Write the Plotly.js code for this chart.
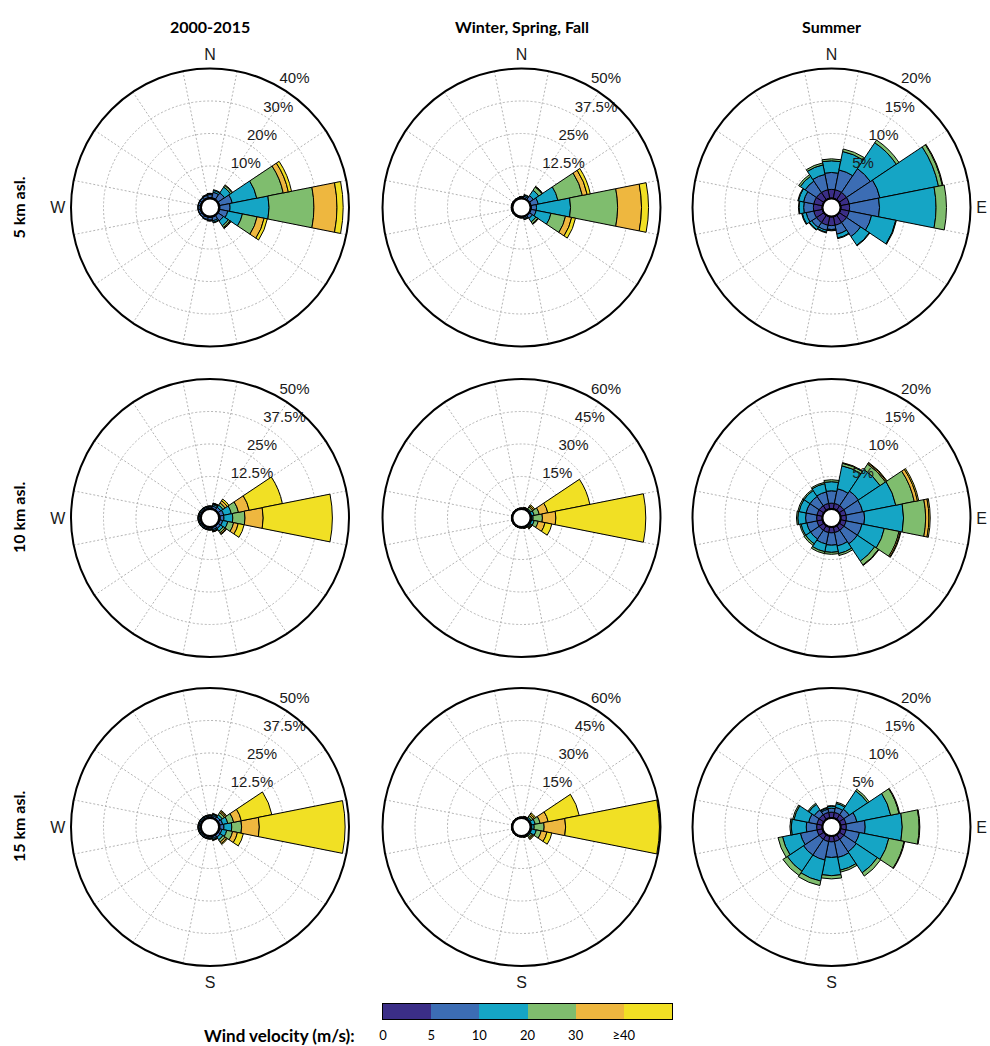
<!DOCTYPE html>
<html><head><meta charset="utf-8">
<script src="https://cdn.plot.ly/plotly-3.0.1.min.js"></script>
<style>html,body{margin:0;padding:0;background:#fff}#chart{width:990px;height:1046px}</style>
</head><body><div id="chart"></div>
<script>
// ---------------- data ----------------
const directions = ['N','NNE','NE','ENE','E','ESE','SE','SSE','S','SSW','SW','WSW','W','WNW','NW','NNW'];
const dirAngles = [0,22.5,45,67.5,90,112.5,135,157.5,180,202.5,225,247.5,270,292.5,315,337.5];
const speedClasses = ['0-5','5-10','10-20','20-30','30-40','>=40'];
const speedColors = ['#3b2e87','#3c6db4','#15a5c5','#7fbd6e','#eeb73f','#f1e024'];
const speedTickLabels = ['0','5','10','20','30','\u226540'];
const columnTitles = ['2000-2015','Winter, Spring, Fall','Summer'];
const rowTitles = ['5 km asl.','10 km asl.','15 km asl.'];

// ring (radial tick) values in %, per panel, row by row
const rings5kmAll = [10,20,30,40];
const rings5kmWSF = [12.5,25,37.5,50];
const rings5kmSummer = [5,10,15,20];
const rings10kmAll = [12.5,25,37.5,50];
const rings10kmWSF = [15,30,45,60];
const rings10kmSummer = [5,10,15,20];
const rings15kmAll = [12.5,25,37.5,50];
const rings15kmWSF = [15,30,45,60];
const rings15kmSummer = [5,10,15,20];

// cardinal labels shown on each panel
const cardinalNames = ['N','E','S','W'];
const cardinalAngles = [0,90,180,270];
const cardinals5kmAll = ['N','W'], cardinals5kmWSF = ['N'], cardinals5kmSummer = ['N','E'];
const cardinals10kmAll = ['W'], cardinals10kmWSF = [], cardinals10kmSummer = ['E'];
const cardinals15kmAll = ['W','S'], cardinals15kmWSF = ['S'], cardinals15kmSummer = ['S','E'];

// cumulative frequency (%) per direction (rows N..NNW), at upper bound of each speed class
const rose5kmAll = [
 [0.3,1.2,1.5,1.6,1.6,1.6],[0.3,2.0,2.6,2.8,2.8,2.8],[0.3,2.6,4.8,5.4,5.6,5.6],[0.3,4.2,11.9,20.2,21.8,22.8],
 [0.3,3.4,15.4,29.2,36.3,38.2],[0.3,2.8,7.4,12.0,14.2,15.2],[0.3,2.2,4.0,4.6,4.9,5.0],[0.3,1.4,1.9,2.1,2.1,2.1],
 [0.3,1.1,1.3,1.4,1.4,1.4],[0.3,1.0,1.2,1.2,1.2,1.2],[0.3,0.9,1.0,1.0,1.0,1.0],[0.3,0.9,1.0,1.0,1.0,1.0],
 [0.3,0.9,1.0,1.0,1.0,1.0],[0.3,0.9,1.0,1.0,1.0,1.0],[0.3,0.9,1.1,1.1,1.1,1.1],[0.3,1.0,1.2,1.3,1.3,1.3]];
const rose5kmWSF = [
 [0.2,0.5,0.7,0.8,0.8,0.8],[0.2,0.9,1.4,1.6,1.6,1.6],[0.2,2.0,4.5,6.0,6.2,6.3],[0.3,3.1,10.8,20.4,22.3,23.5],
 [0.3,2.3,15.4,33.5,42.7,45.4],[0.3,2.3,8.1,13.8,16.2,17.7],[0.2,1.6,3.2,4.0,4.2,4.3],[0.2,0.8,1.2,1.3,1.3,1.3],
 [0.2,0.5,0.6,0.6,0.6,0.6],[0.2,0.4,0.5,0.5,0.5,0.5],[0.2,0.4,0.5,0.5,0.5,0.5],[0.2,0.4,0.5,0.5,0.5,0.5],
 [0.2,0.4,0.5,0.5,0.5,0.5],[0.2,0.4,0.5,0.5,0.5,0.5],[0.2,0.4,0.5,0.5,0.5,0.5],[0.2,0.4,0.5,0.5,0.5,0.5]];
const rose5kmSummer = [
 [1.4,4.0,5.8,6.1,6.1,6.1],[1.4,4.5,7.4,7.8,7.8,7.8],[1.4,5.8,10.6,11.1,11.1,11.1],[1.4,6.2,15.4,16.0,16.1,16.1],
 [1.4,6.0,14.7,16.3,16.3,16.3],[1.4,4.9,8.7,8.8,8.8,8.8],[1.4,4.0,5.6,5.7,5.7,5.7],[1.4,2.8,3.4,3.5,3.5,3.5],
 [1.4,2.0,2.1,2.2,2.2,2.2],[1.4,2.2,2.5,2.6,2.6,2.6],[1.4,2.3,2.7,2.8,2.8,2.8],[1.4,2.6,3.2,3.3,3.3,3.3],
 [1.4,2.9,3.6,3.7,3.7,3.7],[1.4,3.0,3.8,3.9,3.9,3.9],[1.4,3.5,4.4,4.7,4.7,4.7],[1.4,3.8,5.3,5.6,5.6,5.6]];
const rose10kmAll = [
 [0.3,0.8,1.1,1.2,1.2,1.2],[0.3,1.2,1.8,2.1,2.3,2.4],[0.3,1.5,2.5,3.5,4.5,5.3],[0.4,1.9,4.9,7.7,11.9,24.9],
 [0.5,1.9,5.3,10.0,17.0,43.6],[0.4,1.5,3.5,5.8,7.6,9.9],[0.3,1.4,2.6,3.4,3.9,4.2],[0.3,1.1,1.6,1.8,1.9,2.0],
 [0.3,0.8,1.1,1.2,1.2,1.2],[0.3,0.8,1.1,1.2,1.2,1.2],[0.3,0.8,1.1,1.2,1.2,1.2],[0.3,0.8,1.1,1.2,1.2,1.2],
 [0.3,0.8,1.1,1.2,1.2,1.2],[0.3,0.8,1.1,1.2,1.2,1.2],[0.3,0.8,1.1,1.2,1.2,1.2],[0.3,0.8,1.1,1.2,1.2,1.2]];
const rose10kmWSF = [
 [0.1,0.3,0.4,0.5,0.5,0.5],[0.1,0.3,0.5,0.7,0.8,0.9],[0.2,0.5,1.0,2.0,2.6,3.2],[0.2,0.6,1.8,4.2,8.2,28.0],
 [0.2,0.6,1.2,5.5,11.7,53.2],[0.2,0.6,1.8,3.7,6.9,10.1],[0.2,0.5,0.9,1.4,1.7,1.9],[0.1,0.3,0.5,0.7,0.7,0.8],
 [0.1,0.3,0.4,0.5,0.5,0.5],[0.1,0.3,0.4,0.5,0.5,0.5],[0.1,0.3,0.4,0.5,0.5,0.5],[0.1,0.3,0.4,0.5,0.5,0.5],
 [0.1,0.3,0.4,0.5,0.5,0.5],[0.1,0.3,0.4,0.5,0.5,0.5],[0.1,0.3,0.4,0.5,0.5,0.5],[0.1,0.3,0.4,0.5,0.5,0.5]];
const rose10kmSummer = [
 [0.9,2.8,4.2,4.5,4.5,4.5],[0.9,3.2,6.8,7.2,7.3,7.3],[0.9,3.6,7.6,8.6,8.8,8.9],[0.9,3.5,8.7,11.6,12.1,12.3],
 [0.9,3.7,9.7,13.1,13.6,13.8],[0.9,3.4,6.9,9.2,9.4,9.5],[0.9,3.4,6.6,7.3,7.4,7.4],[0.9,3.0,4.2,4.5,4.5,4.5],
 [0.9,2.8,3.9,4.2,4.2,4.2],[0.9,2.7,3.9,4.2,4.2,4.2],[0.9,2.5,3.4,3.7,3.7,3.7],[0.9,2.5,3.4,3.6,3.6,3.6],
 [0.9,2.6,3.8,4.0,4.0,4.0],[0.9,2.6,3.7,3.9,3.9,3.9],[0.9,2.6,3.7,3.9,3.9,3.9],[0.9,2.7,4.0,4.2,4.2,4.2]];
const rose15kmAll = [
 [0.3,0.8,1.1,1.2,1.2,1.2],[0.3,1.0,1.5,1.7,1.8,1.8],[0.3,1.2,2.2,3.2,3.8,4.2],[0.4,1.5,3.5,5.8,8.8,20.8],
 [0.4,1.9,4.9,8.7,15.5,48.5],[0.4,1.2,3.1,5.4,7.3,9.6],[0.3,1.3,2.5,3.5,4.2,4.6],[0.3,1.0,1.5,1.7,1.8,1.8],
 [0.3,0.8,1.1,1.2,1.2,1.2],[0.3,0.8,1.1,1.2,1.2,1.2],[0.3,0.8,1.1,1.2,1.2,1.2],[0.3,0.8,1.1,1.2,1.2,1.2],
 [0.3,0.8,1.1,1.2,1.2,1.2],[0.3,0.8,1.1,1.2,1.2,1.2],[0.3,0.8,1.1,1.2,1.2,1.2],[0.3,0.8,1.1,1.2,1.2,1.2]];
const rose15kmWSF = [
 [0.1,0.3,0.4,0.5,0.5,0.5],[0.1,0.3,0.5,0.7,0.8,0.9],[0.2,0.5,1.2,2.2,3.0,3.7],[0.2,0.6,2.3,4.6,8.4,23.0],
 [0.2,0.6,1.7,6.3,16.2,59.5],[0.2,0.6,2.8,5.1,7.8,10.1],[0.2,0.5,1.0,1.8,2.4,2.8],[0.1,0.3,0.5,0.7,0.7,0.8],
 [0.1,0.3,0.4,0.5,0.5,0.5],[0.1,0.3,0.4,0.5,0.5,0.5],[0.1,0.3,0.4,0.5,0.5,0.5],[0.1,0.3,0.4,0.5,0.5,0.5],
 [0.1,0.3,0.4,0.5,0.5,0.5],[0.1,0.3,0.4,0.5,0.5,0.5],[0.1,0.3,0.4,0.5,0.5,0.5],[0.1,0.3,0.4,0.5,0.5,0.5]];
const rose15kmSummer = [
 [0.9,1.5,1.8,1.9,1.9,1.9],[0.9,1.7,2.3,2.5,2.5,2.5],[0.9,1.9,5.3,5.6,5.6,5.6],[0.9,2.6,7.9,9.2,9.3,9.3],
 [0.9,3.8,9.5,12.1,12.2,12.2],[0.9,3.0,7.6,10.0,10.1,10.1],[0.9,3.2,7.1,7.7,7.7,7.7],[0.9,3.4,5.4,5.7,5.7,5.7],
 [0.9,3.3,6.1,6.6,6.6,6.6],[0.9,3.8,7.1,7.8,7.8,7.8],[0.9,3.8,6.8,7.6,7.6,7.6],[0.9,3.5,6.3,7.0,7.0,7.0],
 [0.9,2.5,4.8,5.0,5.0,5.0],[0.9,2.2,4.5,4.7,4.7,4.7],[0.9,1.8,2.8,3.0,3.0,3.0],[0.9,1.4,1.6,1.7,1.7,1.7]];

// ---------------- build ----------------
const panels = [
 {rose:rose5kmAll, rings:rings5kmAll, card:cardinals5kmAll},
 {rose:rose5kmWSF, rings:rings5kmWSF, card:cardinals5kmWSF},
 {rose:rose5kmSummer, rings:rings5kmSummer, card:cardinals5kmSummer},
 {rose:rose10kmAll, rings:rings10kmAll, card:cardinals10kmAll},
 {rose:rose10kmWSF, rings:rings10kmWSF, card:cardinals10kmWSF},
 {rose:rose10kmSummer, rings:rings10kmSummer, card:cardinals10kmSummer},
 {rose:rose15kmAll, rings:rings15kmAll, card:cardinals15kmAll},
 {rose:rose15kmWSF, rings:rings15kmWSF, card:cardinals15kmWSF},
 {rose:rose15kmSummer, rings:rings15kmSummer, card:cardinals15kmSummer}
];

const W = 990, H = 1046, R = 139;
const cxs = [210, 521.5, 831.5], cys = [207.5, 518, 827];
const gridAngles = dirAngles.map(a => a + 11.25);
const ringTheta = []; for (let a = 0; a <= 360; a += 4) ringTheta.push(a);
const gridColor = '#b4b4b4';
const gridDash = '2px,2px';
const labelFont = {family:'Liberation Sans, Arial, sans-serif', size:15, color:'#1a1a1a'};
const cardFont = {family:'Liberation Sans, Arial, sans-serif', size:16, color:'#1a1a1a'};

const traces = [];
const layout = {
  width: W, height: H, margin:{l:0,r:0,t:0,b:0}, showlegend:false,
  paper_bgcolor:'#fff', plot_bgcolor:'#fff', annotations: []
};

panels.forEach((p, i) => {
  const row = Math.floor(i / 3), col = i % 3;
  const id = i === 0 ? 'polar' : 'polar' + (i + 1);
  const idCard = 'polar' + (i + 10);
  const maxR = p.rings[p.rings.length - 1];
  const cx = cxs[col], cy = cys[row];
  const domain = {x:[(cx - R) / W, (cx + R) / W], y:[(H - cy - R) / H, (H - cy + R) / H]};
  layout[id] = {
    domain: domain, hole: 0.065, bgcolor:'rgba(0,0,0,0)', barmode:'stack',
    radialaxis: {range:[0, maxR], tickvals:p.rings.slice(0, 3), showticklabels:false, ticks:'',
      showline:false, gridcolor:gridColor, griddash:gridDash, gridwidth:1},
    angularaxis: {direction:'clockwise', rotation:90, tickvals:gridAngles, showticklabels:false, ticks:'',
      gridcolor:gridColor, griddash:gridDash, gridwidth:1, showline:true, linecolor:'#000', linewidth:2}
  };
  // overlay polar carrying only the compass labels
  layout[idCard] = {
    domain: domain, bgcolor:'rgba(0,0,0,0)',
    radialaxis: {visible:false, range:[0, 1]},
    angularaxis: {direction:'clockwise', rotation:90, tickvals:cardinalAngles,
      ticktext:cardinalNames.map(n => p.card.indexOf(n) >= 0 ? n : ''),
      ticks:'outside', ticklen:2, tickcolor:'rgba(0,0,0,0)', showgrid:false, showline:false, tickfont:cardFont}
  };
  traces.push({type:'scatterpolar', subplot:idCard, r:[], theta:[], mode:'markers', hoverinfo:'skip'});

  speedClasses.forEach((cls, k) => {
    const r = p.rose.map(d => +(d[k] - (k ? d[k - 1] : 0)).toFixed(3));
    traces.push({type:'barpolar', subplot:id, r:r, theta:dirAngles, width:22.5, name:cls,
      marker:{color:speedColors[k], line:{color:'#000', width:1}}, hoverinfo:'skip'});
  });
  // inner hole ring
  traces.push({type:'scatterpolar', subplot:id, mode:'lines', r:ringTheta.map(() => 0), theta:ringTheta,
    line:{color:'#000', width:2}, cliponaxis:false, hoverinfo:'skip'});
  // ring labels
  traces.push({type:'scatterpolar', subplot:id, mode:'text', r:p.rings, theta:p.rings.map(() => 30),
    text:p.rings.map(v => v + '%'), textposition:'top right', textfont:labelFont, cliponaxis:false, hoverinfo:'skip'});
});

// column titles and row titles
columnTitles.forEach((t, c) => {
  layout.annotations.push({text:'<b>' + t + '</b>', x:cxs[c] / W, y:1 - 26 / H, xref:'paper', yref:'paper',
    xanchor:'center', yanchor:'middle', showarrow:false, font:{family:'Lato, sans-serif', size:16, color:'#000'}});
});
rowTitles.forEach((t, r) => {
  layout.annotations.push({text:'<b>' + t + '</b>', x:18 / W, y:1 - cys[r] / H, xref:'paper', yref:'paper',
    xanchor:'center', yanchor:'middle', textangle:-90, showarrow:false, font:{family:'Lato, sans-serif', size:16, color:'#000'}});
});

// colour bar
const cs = [];
speedColors.forEach((c, k) => { cs.push([k / 6, c]); cs.push([(k + 1) / 6, c]); });
traces.push({type:'heatmap', xaxis:'x', yaxis:'y', z:[speedClasses.map((_, k) => k)],
  x:speedClasses.map((_, k) => k), y:[0], zmin:-0.5, zmax:5.5, colorscale:cs, showscale:false, hoverinfo:'skip'});
layout.xaxis = {domain:[383 / W, 672 / W], range:[-0.5, 5.5], tickvals:speedTickLabels.map((_, k) => k - 0.5),
  ticktext:speedTickLabels, ticks:'', showgrid:false, zeroline:false, showline:true, mirror:true,
  linecolor:'#000', linewidth:1, tickfont:{family:'Lato, sans-serif', size:13, color:'#000'}, ticklabelstandoff:4, fixedrange:true};
layout.yaxis = {domain:[27 / H, 42 / H], range:[-0.5, 0.5], showticklabels:false, ticks:'', showgrid:false,
  zeroline:false, showline:true, mirror:true, linecolor:'#000', linewidth:1, fixedrange:true};
layout.annotations.push({text:'<b>Wind velocity (m/s):</b>', x:357 / W, y:1 - 1035 / H, xref:'paper', yref:'paper',
  xanchor:'right', yanchor:'middle', showarrow:false, font:{family:'Lato, sans-serif', size:17, color:'#000'}});

Plotly.newPlot('chart', traces, layout, {displayModeBar:false, staticPlot:true});
</script>
</body></html>
